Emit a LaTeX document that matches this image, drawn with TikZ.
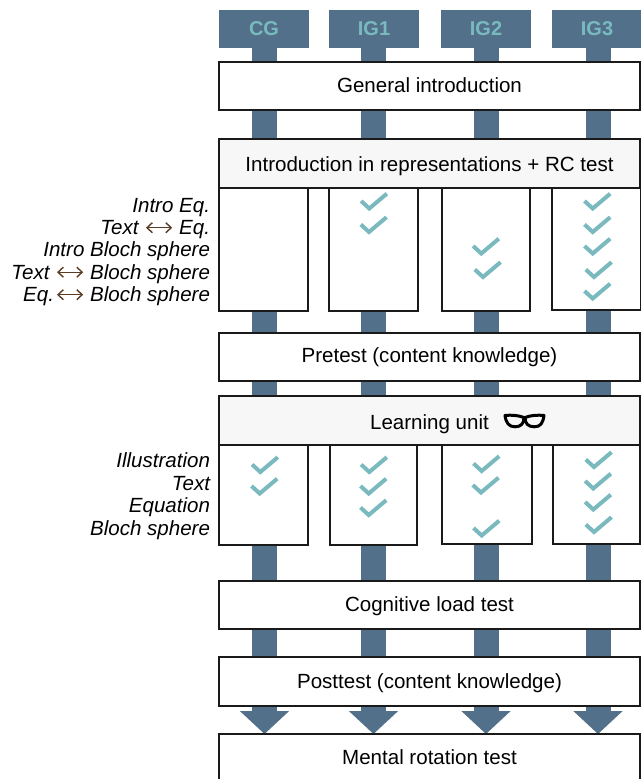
\documentclass[tikz,border=0pt]{standalone}
\usepackage{fontspec}
\setmainfont{Liberation Sans}[ItalicFont={Liberation Sans Italic},BoldFont={Liberation Sans Bold}]
\usetikzlibrary{arrows.meta}
\definecolor{stemblue}{HTML}{527089}
\definecolor{tealtxt}{HTML}{7ABABF}
\definecolor{paleg}{HTML}{F7F7F7}
\definecolor{inkk}{HTML}{1A1A1A}
\definecolor{arrbrown}{HTML}{5A3C22}
\pgfdeclarelayer{under}
\pgfsetlayers{under,main}
\newlength\px \setlength\px{0.75pt}
\tikzset{
  x=0.75pt,y=-0.75pt,
  allbox/.style={draw=inkk,line width=1.2\px,inner sep=0pt,outer sep=0pt,font=\fontsize{15.4}{18}\selectfont,text=black},
  wide/.style={allbox,fill=white,minimum width=421\px,minimum height=48\px,text depth=4pt},
  paleb/.style={wide,fill=paleg},
  sub/.style={allbox,fill=white},
  head/.style={fill=stemblue,text=tealtxt,inner sep=0pt,outer sep=0pt,minimum width=90\px,minimum height=38\px,font=\fontsize{15}{18}\bfseries\selectfont},
  stem/.style={draw=stemblue,line width=25\px},
  stemarrow/.style={stem,-{Triangle[width=36pt,length=17.25pt]}},
  lab/.style={inner sep=0pt,outer sep=0pt,text height=13.7pt,text depth=3.5pt,font=\fontsize{15.4}{18}\itshape\selectfont,text=black},
  dblarrow/.style={draw=arrbrown,line width=1.4\px,{Straight Barb[length=4pt,width=7.5pt]}-{Straight Barb[length=4pt,width=7.5pt]}},
  tick/.pic={\draw[tealtxt,line width=4\px,miter limit=10] (-8.2,-7.5) -- (0,0) -- (17.5,-14.8);},
  glass/.style={draw=black,line width=3\px,line join=round}
}
\begin{document}
\begin{tikzpicture}
\useasboundingbox (0,0) rectangle (641,779);
\clip (0,0) rectangle (641,779);
% column headers
\node[head] (hA) at (264,29) {CG};
\node[head] (hB) at (374,28.5) {IG1};
\node[head] (hC) at (486,28.5) {IG2};
\node[head] (hD) at (597,28.5) {IG3};
% wide stages
\node[wide,text height=13.45pt] (gen) at (429.5,86) {General introduction};
\node[paleb,minimum height=49\px,text height=16.3pt] (intro) at (429.5,163.5) {Introduction in representations + RC test};
\node[wide,text height=12.55pt] (pre) at (429.5,357) {Pretest (content knowledge)};
\node[paleb,minimum height=49\px,text height=16.75pt] (learn) at (429.5,420.5) {Learning unit};
\node[wide,text height=14.05pt] (cog) at (429.5,605) {Cognitive load test};
\node[wide,minimum height=49\px,text height=14.2pt] (post) at (429.5,681.5) {Posttest (content knowledge)};
\node[wide,minimum height=47\px,text height=13.75pt] (ment) at (429.5,757.5) {Mental rotation test};
% first row of group boxes
\node[sub,minimum width=89\px,minimum height=123\px] (a1) at (263.5,249.5) {};
\node[sub,minimum width=89\px,minimum height=123\px] (b1) at (373.5,249.5) {};
\node[sub,minimum width=88\px,minimum height=123\px] (c1) at (486,249.5) {};
\node[sub,minimum width=89\px,minimum height=122\px] (d1) at (596.5,249) {};
% second row of group boxes
\node[sub,minimum width=89\px,minimum height=100\px] (a2) at (263.5,495) {};
\node[sub,minimum width=87\px,minimum height=100\px] (b2) at (373.5,495) {};
\node[sub,minimum width=90\px,minimum height=99\px] (c2) at (487,494.5) {};
\node[sub,minimum width=87\px,minimum height=99\px] (d2) at (596.5,494.5) {};
% stems
\coordinate (xA) at (264.5,0);
\coordinate (xB) at (373.5,0);
\coordinate (xC) at (486,0);
\coordinate (xD) at (598,0);
\begin{pgfonlayer}{under}
\foreach \col/\hh/\one/\two in {A/hA/a1/a2,B/hB/b1/b2,C/hC/c1/c2,D/hD/d1/d2}{
  \draw[stem] (x\col |- \hh.south) -- (x\col |- gen.north);
  \draw[stem] (x\col |- gen.south) -- (x\col |- intro.north);
  \draw[stem] (x\col |- \one.south) -- (x\col |- pre.north);
  \draw[stem] (x\col |- pre.south) -- (x\col |- learn.north);
  \draw[stem] (x\col |- \two.south) -- (x\col |- cog.north);
  \draw[stem] (x\col |- cog.south) -- (x\col |- post.north);
  \draw[stemarrow] (x\col |- post.south) -- (x\col |- ment.north);
}
\end{pgfonlayer}
% row labels, first block
\node[lab,anchor=east] (l1) at (210,205.5) {Intro Eq.};
\node[lab,anchor=east] (l2e) at (210,227.7) {Eq.};
\node[lab,anchor=east] (l2t) at (138.5,227.7) {Text};
\node[lab,anchor=east] (l3) at (210,250) {Intro Bloch sphere};
\node[lab,anchor=east] (l4b) at (210,272.2) {Bloch sphere};
\node[lab,anchor=east] (l4t) at (49.5,272.2) {Text};
\node[lab,anchor=east] (l5b) at (210,294.7) {Bloch sphere};
\node[lab,anchor=east] (l5e) at (54,294.7) {Eq.};
\draw[dblarrow,shorten <=7.5\px,shorten >=7\px] (l2t) -- (l2e);
\draw[dblarrow,shorten <=7.5\px,shorten >=7\px] (l4t) -- (l4b);
\draw[dblarrow,shorten <=3\px,shorten >=7\px] (l5e) -- (l5b);
% row labels, second block
\node[lab,anchor=east] (m1) at (210,460.9) {Illustration};
\node[lab,anchor=east] (m2) at (210,483.2) {Text};
\node[lab,anchor=east] (m3) at (210,505.9) {Equation};
\node[lab,anchor=east] (m4) at (210,528.2) {Bloch sphere};
% ticks
\foreach \tx/\ty in {369.3/208.5,369/232,
  481.3/253.5,483/277,
  592.7/208.5,592.7/232,592.7/253.5,594/277,592.7/298.5,
  260.3/472,259.7/493.5,
  369.3/472,368.7/493.5,368.7/515,
  481.7/471,481/492.5,481.7/535.5,
  594/467,593.3/488.5,593.3/509.5,594/532}{
  \pic at (\tx,\ty) {tick};
}
% glasses
\draw[glass] (505,415.5) .. controls (511,414.8) and (518,415.2) .. (524,417.5) .. controls (524,423.5) and (521,426.8) .. (515,426.8) .. controls (509,426.8) and (506,423) .. (505,415.5) -- cycle;
\draw[glass] (544,415.5) .. controls (538,414.8) and (531,415.2) .. (525,417.5) .. controls (525,423.5) and (528,426.8) .. (534.5,426.8) .. controls (540.5,426.8) and (543,423) .. (544,415.5) -- cycle;
\end{tikzpicture}
\end{document}
